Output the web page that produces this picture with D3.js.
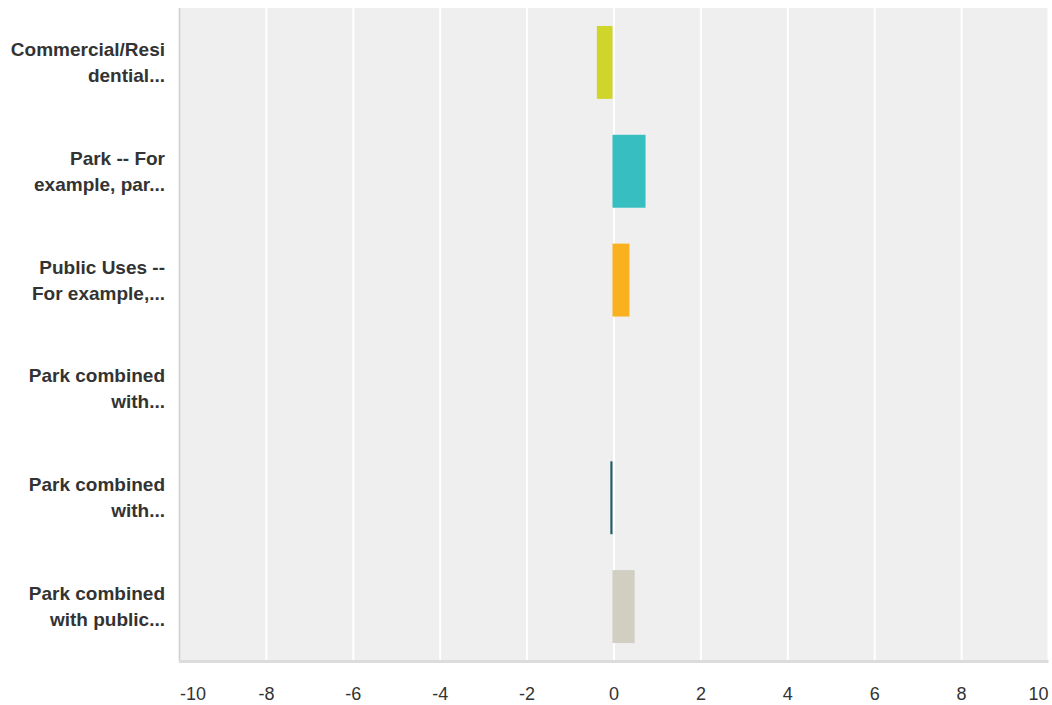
<!DOCTYPE html>
<html>
<head>
<meta charset="utf-8">
<script src="https://cdn.jsdelivr.net/npm/d3@7"></script>
<style>
  body { margin: 0; background: #fff; }
  svg { display: block; font-family: "Liberation Sans", Arial, sans-serif; }
</style>
</head>
<body>
<svg id="chart" width="1052" height="705"></svg>
<script>
var categories = [                              // row labels, already wrapped into lines
  ["Commercial/Resi", "dential..."],
  ["Park -- For", "example, par..."],
  ["Public Uses --", "For example,..."],
  ["Park combined", "with..."],
  ["Park combined", "with..."],
  ["Park combined", "with public..."]
];
var values = [-0.36, 0.76, 0.39, 0, -0.05, 0.51];   // average score per row
var colors = ["#d0d52a", "#36bec0", "#f9b11f", "#8cc63f", "#265c6b", "#d0cfc1"];
var xTicks = [-10, -8, -6, -4, -2, 0, 2, 4, 6, 8, 10];

// plot area edges (avoid the name "top", it is window.top)
var plotL = 179.5, plotR = 1048.5, plotT = 8, plotB = 661;

var svg = d3.select("#chart");

var x = d3.scaleLinear().domain([-10, 10]).range([plotL, plotR]);
var y = d3.scaleBand().domain(d3.range(categories.length)).range([plotT, plotB]).paddingInner(0.33).paddingOuter(0.165);

// plot background
svg.append("rect")
  .attr("x", plotL)
  .attr("y", plotT)
  .attr("width", plotR - plotL)
  .attr("height", plotB - plotT)
  .attr("fill", "#efefef");

// vertical grid lines
svg.append("g")
  .selectAll("line")
  .data(xTicks.slice(1))
  .join("line")
  .attr("x1", d => x(d))
  .attr("x2", d => x(d))
  .attr("y1", plotT)
  .attr("y2", plotB)
  .attr("stroke", "#ffffff")
  .attr("stroke-width", 2);

// bars
svg.append("g")
  .selectAll("rect")
  .data(values)
  .join("rect")
  .attr("x", d => x(Math.min(0, d)) - 1.5)
  .attr("y", (d, i) => y(i))
  .attr("width", d => Math.abs(x(d) - x(0)))
  .attr("height", y.bandwidth())
  .attr("fill", (d, i) => colors[i]);

// left axis line
svg.append("line")
  .attr("x1", plotL)
  .attr("x2", plotL)
  .attr("y1", plotT)
  .attr("y2", plotB + 2)
  .attr("stroke", "#cfcfcf")
  .attr("stroke-width", 1.5);

// bottom axis line
svg.append("line")
  .attr("x1", plotL - 0.5)
  .attr("x2", plotR)
  .attr("y1", plotB + 0.5)
  .attr("y2", plotB + 0.5)
  .attr("stroke", "#dcdcdc")
  .attr("stroke-width", 3);

// x tick labels
svg.append("g")
  .selectAll("text")
  .data(xTicks)
  .join("text")
  .attr("x", (d, i) => i === 0 ? plotL + 0.5 : (i === xTicks.length - 1 ? plotR : x(d)))
  .attr("y", 700)
  .attr("text-anchor", (d, i) => i === 0 ? "start" : (i === xTicks.length - 1 ? "end" : "middle"))
  .attr("fill", "#333")
  .style("font-size", "18px")
  .text(d => d);

// category labels
var labels = svg.append("g")
  .selectAll("text")
  .data(categories)
  .join("text")
  .attr("text-anchor", "end")
  .attr("fill", "#333")
  .style("font-size", "19px")
  .style("font-weight", "bold");

labels.each(function (lines, i) {
  var cy = y(i) + y.bandwidth() / 2;
  var t = d3.select(this);
  lines.forEach(function (line, k) {
    t.append("tspan")
      .attr("x", 165)
      .attr("y", cy + 6.5 + (k - (lines.length - 1) / 2) * 26)
      .text(line);
  });
});
</script>
</body>
</html>
